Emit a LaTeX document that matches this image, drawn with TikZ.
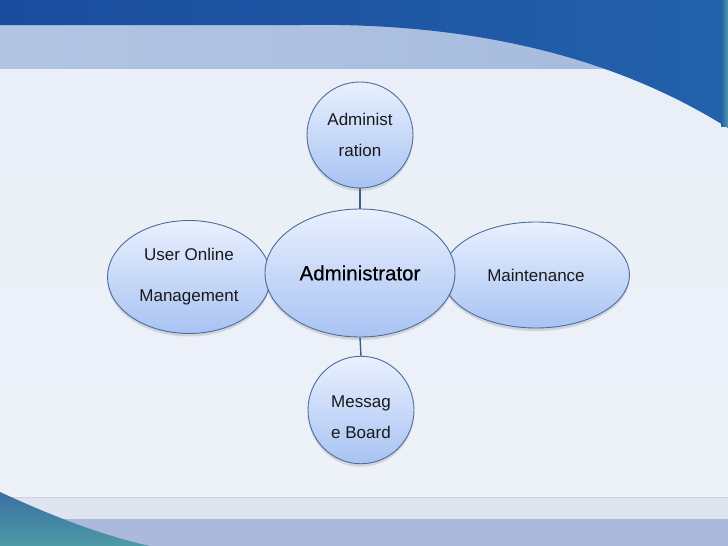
\documentclass[tikz,border=0pt]{standalone}
\usepackage{fontspec}
\setmainfont{Liberation Sans}
\newfontfamily\admfont[BoldFont={Liberation Sans},BoldFeatures={FakeBold=0.5}]{Liberation Sans}
\usetikzlibrary{shapes.geometric,shadows}
\definecolor{bgmain}{HTML}{EDF1F8}
\definecolor{bgtop}{HTML}{EAEFF7}
\definecolor{topdark}{HTML}{1A4C9D}
\definecolor{topdarkR}{HTML}{2361AB}
\definecolor{bandlight}{HTML}{A5BADD}
\definecolor{botband}{HTML}{DEE4F0}
\definecolor{botblue}{HTML}{ABBADC}
\definecolor{tealA}{HTML}{3C6FA2}
\definecolor{tealB}{HTML}{4C9AA6}
\definecolor{edge}{HTML}{4C6C9C}
\definecolor{fillTop}{HTML}{E9F0FE}
\definecolor{fillBot}{HTML}{A8C3F3}
\definecolor{linkc}{HTML}{3E5F8E}
\tikzset{
  bubble/.style={ellipse, draw=edge, line width=0.9pt, top color=fillTop, bottom color=fillBot,
    inner sep=0pt, text=black!90, align=center,
    drop shadow={opacity=0.25, shadow xshift=0pt, shadow yshift=-3pt}},
  link/.style={draw=linkc, line width=1.4pt}
}
\begin{document}
\begin{tikzpicture}[x=1pt,y=-1pt]
\useasboundingbox (0,0) rectangle (728,546);
% background
\fill[bgmain] (0,0) rectangle (728,546);
\shade[top color=bgtop, bottom color=bgmain] (0,68) rectangle (728,497);
\shade[left color=bandlight!85!white, right color=bandlight] (0,25) rectangle (728,68);
\shade[left color=topdark, right color=topdarkR]
  (0,0) -- (0,25) -- (300,25) .. controls (480,22) and (620,60) .. (728,128) -- (728,0) -- cycle;
\shade[left color=topdarkR, right color=tealB] (721,0) rectangle (728,126);
\fill[botband] (0,497) rectangle (728,519);
\draw[color=botband!92!black, line width=0.5pt] (0,497) -- (728,497);
\fill[botblue] (0,519) rectangle (728,546);
\shade[top color=tealA, bottom color=tealB]
  (0,492) .. controls (50,515) and (100,535) .. (150,546) -- (0,546) -- cycle;
% nodes
\node[bubble, minimum width=106pt, minimum height=106pt, font=\fontsize{17}{31}\selectfont]
  (top) at (360,135) {Administ\\ration};
\node[bubble, minimum width=106pt, minimum height=106pt, font=\fontsize{17}{31}\selectfont]
  (bot) at (361,410) {\begin{tabular}{@{}c@{}}\rule{0pt}{35.7pt}Messag\\e Board\end{tabular}};
\node[bubble, minimum width=163pt, minimum height=113pt, font=\fontsize{17}{41}\selectfont]
  (left) at (189,277) {User Online\\Management};
\node[bubble, minimum width=187pt, minimum height=106pt, font=\fontsize{17}{20}\selectfont]
  (right) at (536,275) {Maintenance};
\node[bubble, minimum width=190pt, minimum height=128pt, font=\admfont\bfseries\fontsize{20.5}{24}\selectfont, text=black]
  (adm) at (360,273) {Administrator};
% connectors
\draw[link] (top.south) -- (adm.north);
\draw[link] (adm.south) -- (bot.north);
\end{tikzpicture}
\end{document}
